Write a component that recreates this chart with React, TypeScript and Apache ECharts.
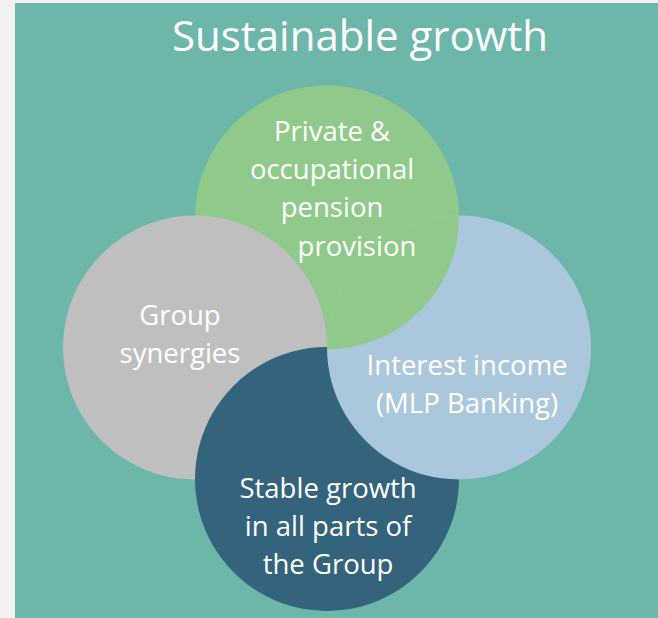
import React, { useEffect, useRef } from "react";
import * as echarts from "echarts";

// Diagram in abstract units: one unit = one circle radius
const titleText = "Sustainable growth";
const circleX = [0, -1, 0, 1];
const circleY = [0.99, 0, -1.0, 0];
const circleR = [1, 1, 1, 1];
const circleColors = ["#90ca8a", "#bfbfbf", "#33637d", "#abc7dc"];
// text blocks inside circles
const labelTexts = [
  "Private &\noccupational\npension",
  "provision",
  "Group\nsynergies",
  "Stable growth\nin all parts of\nthe Group",
  "Interest income\n(MLP Banking)",
];
const labelX = [0.038, 0.227, -1.114, 0.008, 1.061];
const labelY = [1.358, 0.773, 0.11, -1.357, -0.27];

export default function App() {
  const ref = useRef<HTMLDivElement>(null);
  useEffect(() => {
    if (!ref.current) return;
    const chart = echarts.init(ref.current, null, { renderer: "svg" });
    const pxPerX = 132;
    const pxPerY = 131.5;
    const cxPx = 327;
    const cyPx = 347.5;
    const W = 658;
    const H = 618;
    const circleData = circleX.map((x, i) => [x, circleY[i], circleR[i]]);
    const labelData = labelX.map((x, i) => [x, labelY[i]]);
    // lens: green (0) over light blue (3)
    const lensData = [[circleX[0], circleY[0], circleX[3], circleY[3], circleR[0]]];
    const font = "'Open Sans', 'Noto Sans', sans-serif";
    chart.setOption({
      animation: false,
      backgroundColor: "#f2f1ef",
      title: {
        text: titleText,
        left: 355,
        top: 8,
        textAlign: "center",
        textStyle: { color: "#ffffff", fontSize: 42, fontWeight: "normal", fontFamily: font },
      },
      graphic: [
        { type: "rect", shape: { x: 15, y: 3, width: W - 15, height: H - 3 }, style: { fill: "#6cb7a9" }, z: -10 },
      ],
      grid: { left: 0, right: 0, top: 0, bottom: 0 },
      xAxis: { type: "value", min: -cxPx / pxPerX, max: (W - cxPx) / pxPerX, show: false },
      yAxis: { type: "value", min: -(H - cyPx) / pxPerY, max: cyPx / pxPerY, show: false },
      series: [
        {
          type: "custom",
          z: 2,
          data: circleData,
          renderItem: (params: any, api: any) => {
            const c = api.coord([api.value(0), api.value(1)]);
            const r = api.size([api.value(2), 0])[0];
            return {
              type: "circle",
              shape: { cx: c[0], cy: c[1], r },
              style: { fill: circleColors[params.dataIndex] },
            };
          },
        },
        {
          type: "custom",
          z: 3,
          data: lensData,
          renderItem: (params: any, api: any) => {
            const a = api.coord([api.value(0), api.value(1)]);
            const b = api.coord([api.value(2), api.value(3)]);
            const r = api.size([api.value(4), 0])[0];
            const dx = b[0] - a[0];
            const dy = b[1] - a[1];
            const d = Math.sqrt(dx * dx + dy * dy);
            const h = Math.sqrt(Math.max(r * r - (d / 2) * (d / 2), 0));
            const mx = (a[0] + b[0]) / 2;
            const my = (a[1] + b[1]) / 2;
            const px = -dy / d;
            const py = dx / d;
            const p1 = [mx + px * h, my + py * h];
            const p2 = [mx - px * h, my - py * h];
            const pathData = `M${p1[0]},${p1[1]} A${r},${r} 0 0 1 ${p2[0]},${p2[1]} A${r},${r} 0 0 1 ${p1[0]},${p1[1]} Z`;
            return {
              type: "path",
              shape: { pathData },
              style: { fill: circleColors[0] },
            };
          },
        },
        {
          type: "custom",
          z: 4,
          data: labelData,
          renderItem: (params: any, api: any) => {
            const c = api.coord([api.value(0), api.value(1)]);
            return {
              type: "text",
              x: c[0],
              y: c[1],
              style: {
                text: labelTexts[params.dataIndex],
                fill: "#ffffff",
                fontSize: 27.5,
                fontFamily: font,
                lineHeight: 38,
                align: "center",
                verticalAlign: "middle",
              },
            };
          },
        },
      ],
    });
    return () => chart.dispose();
  }, []);
  return (
    <div
      ref={ref}
      style={{ position: "absolute", left: 0, top: 0, width: 658, height: 618 }}
    />
  );
}
